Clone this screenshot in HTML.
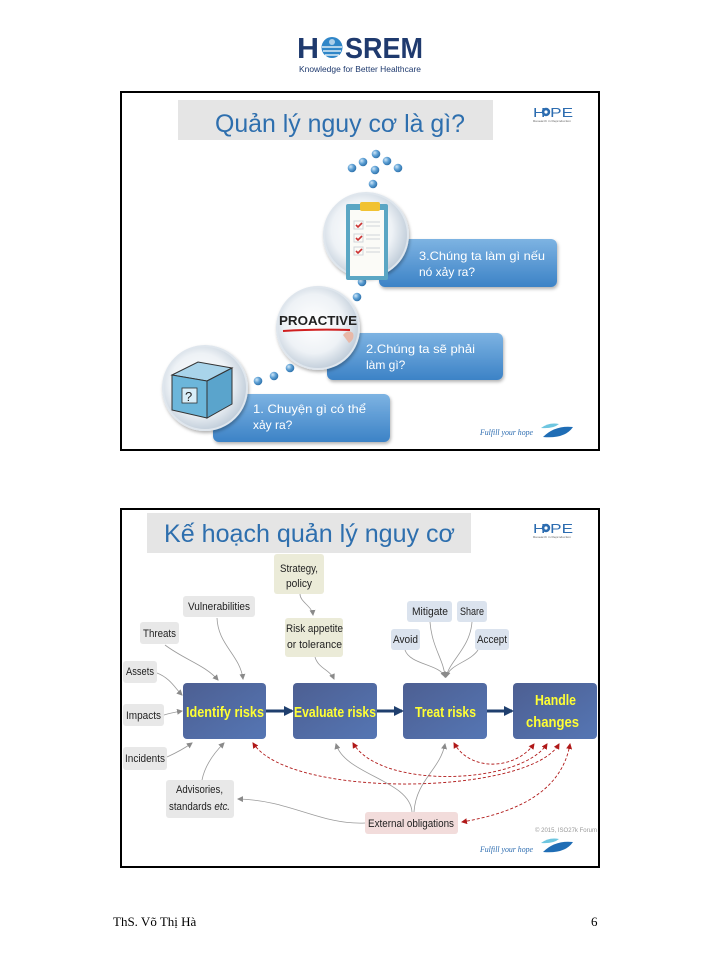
<!DOCTYPE html>
<html><head><meta charset="utf-8">
<style>
html,body{margin:0;padding:0;background:#fff;}
svg{display:block;}
</style></head>
<body>
<svg width="720" height="960" viewBox="0 0 720 960" xmlns="http://www.w3.org/2000/svg" style="font-family:'Liberation Sans',sans-serif">
<defs>
  <linearGradient id="bb" x1="0" y1="0" x2="0" y2="1">
    <stop offset="0" stop-color="#7db3e2"/>
    <stop offset="1" stop-color="#3c82c6"/>
  </linearGradient>
  <linearGradient id="nb" x1="0" y1="0" x2="1" y2="1">
    <stop offset="0" stop-color="#4d5f92"/>
    <stop offset="1" stop-color="#5576b4"/>
  </linearGradient>
  <radialGradient id="cg" cx="0.45" cy="0.45" r="0.6">
    <stop offset="0" stop-color="#ffffff"/>
    <stop offset="0.6" stop-color="#eef2f6"/>
    <stop offset="1" stop-color="#b8c6d4"/>
  </radialGradient>
  <radialGradient id="ball" cx="0.35" cy="0.35" r="0.7">
    <stop offset="0" stop-color="#cfe6f7"/>
    <stop offset="0.5" stop-color="#5c9fd4"/>
    <stop offset="1" stop-color="#2b6ea8"/>
  </radialGradient>
  <marker id="ga" markerWidth="6" markerHeight="6" refX="5" refY="3" orient="auto" markerUnits="userSpaceOnUse">
    <path d="M0,0 L6,3 L0,6 z" fill="#8a8a8a"/>
  </marker>
  <marker id="ra" markerWidth="6" markerHeight="6" refX="5" refY="3" orient="auto" markerUnits="userSpaceOnUse">
    <path d="M0,0 L6,3 L0,6 z" fill="#b01818"/>
  </marker>
  <marker id="rs" markerWidth="6" markerHeight="6" refX="1" refY="3" orient="auto" markerUnits="userSpaceOnUse">
    <path d="M6,0 L0,3 L6,6 z" fill="#b01818"/>
  </marker>
  <marker id="ba" markerWidth="10" markerHeight="10" refX="8" refY="5" orient="auto" markerUnits="userSpaceOnUse">
    <path d="M0,0 L10,5 L0,10 z" fill="#1f3f6e"/>
  </marker>
  <filter id="sh" x="-10%" y="-10%" width="130%" height="140%">
    <feDropShadow dx="1" dy="2" stdDeviation="1.5" flood-color="#000" flood-opacity="0.3"/>
  </filter>
</defs>

<!-- HOSREM logo -->
<text x="297" y="58" font-size="29" font-weight="bold" fill="#1f3a6e" textLength="22" lengthAdjust="spacingAndGlyphs">H</text>
<circle cx="332" cy="47.5" r="10.5" fill="#2f86c8"/>
<path d="M322,47 h20 M323,51 h18 M325,55 h14" stroke="#fff" stroke-width="1.2"/>
<circle cx="332" cy="42" r="3" fill="#fff" opacity="0.6"/>
<text x="345" y="58" font-size="29" font-weight="bold" fill="#1f3a6e" textLength="78" lengthAdjust="spacingAndGlyphs">SREM</text>
<text x="299" y="72" font-size="8.5" fill="#1f3a6e" textLength="122" lengthAdjust="spacingAndGlyphs">Knowledge for Better Healthcare</text>

<!-- ================= SLIDE 1 ================= -->
<rect x="121" y="92" width="478" height="358" fill="#fff" stroke="#000" stroke-width="2"/>
<rect x="178" y="100" width="315" height="40" fill="#e5e5e5"/>
<text x="215" y="132" font-size="25" fill="#2e6fae" textLength="250" lengthAdjust="spacingAndGlyphs">Quản lý nguy cơ là gì?</text>
<!-- HOPE logo -->
<text x="533" y="117" font-size="13" fill="#2c6cb0" textLength="40" lengthAdjust="spacingAndGlyphs">H  PE</text>
<circle cx="546" cy="112" r="4.2" fill="#2c6cb0"/><circle cx="546" cy="112" r="1.6" fill="#fff"/>
<text x="533" y="122" font-size="3" fill="#666" textLength="38" lengthAdjust="spacingAndGlyphs">Research in Reproduction</text>

<!-- balls -->
<g fill="url(#ball)">
  <circle cx="352" cy="168" r="4.3"/><circle cx="363" cy="162" r="4.3"/><circle cx="376" cy="154" r="4.3"/>
  <circle cx="387" cy="161" r="4.3"/><circle cx="398" cy="168" r="4.3"/><circle cx="375" cy="170" r="4.3"/>
  <circle cx="373" cy="184" r="4.3"/>
  <circle cx="362" cy="282" r="4.3"/><circle cx="357" cy="297" r="4.3"/>
  <circle cx="290" cy="368" r="4.3"/><circle cx="274" cy="376" r="4.3"/><circle cx="258" cy="381" r="4.3"/>
</g>

<!-- box 3 -->
<rect x="379" y="239" width="178" height="48" rx="6" fill="url(#bb)" filter="url(#sh)"/>
<text x="419" y="260" font-size="12" fill="#fff" textLength="126" lengthAdjust="spacingAndGlyphs">3.Chúng ta làm gì nếu</text>
<text x="419" y="276" font-size="12" fill="#fff">nó xảy ra?</text>
<!-- circle 3 -->
<circle cx="366" cy="235" r="42" fill="url(#cg)" stroke="#dfe6ed" stroke-width="2" filter="url(#sh)"/>
<rect x="346" y="204" width="42" height="76" rx="2" fill="#5aa6c4"/>
<rect x="350" y="210" width="34" height="66" fill="#fbfbf7"/>
<rect x="360" y="202" width="20" height="9" rx="2" fill="#f1c232"/>
<g stroke="#cc3333" stroke-width="1.6" fill="none">
  <path d="M356,225 l2,2 l4,-4"/><path d="M356,238 l2,2 l4,-4"/><path d="M356,251 l2,2 l4,-4"/>
</g>
<g stroke="#d0d5da" stroke-width="1">
  <rect x="354" y="221" width="9" height="8" fill="none"/><rect x="354" y="234" width="9" height="8" fill="none"/><rect x="354" y="247" width="9" height="8" fill="none"/>
  <path d="M366,222 h14 M366,226 h14 M366,235 h14 M366,239 h14 M366,248 h14 M366,252 h14"/>
</g>

<!-- box 2 -->
<rect x="327" y="333" width="176" height="47" rx="6" fill="url(#bb)" filter="url(#sh)"/>
<text x="366" y="353" font-size="12" fill="#fff" textLength="109" lengthAdjust="spacingAndGlyphs">2.Chúng ta sẽ phải</text>
<text x="366" y="369" font-size="12" fill="#fff">làm gì?</text>
<!-- circle 2 -->
<circle cx="318" cy="328" r="41" fill="url(#cg)" stroke="#dfe6ed" stroke-width="2" filter="url(#sh)"/>
<text x="279" y="325" font-size="13" font-weight="bold" fill="#222" textLength="78" lengthAdjust="spacingAndGlyphs">PROACTIVE</text>
<path d="M283,331 Q315,329 350,330" stroke="#d02020" stroke-width="2" fill="none"/>
<path d="M343,335 q5,-6 10,-2 q2,6 -4,10 z" fill="#e8b8a8"/>

<!-- box 1 -->
<rect x="213" y="394" width="177" height="48" rx="6" fill="url(#bb)" filter="url(#sh)"/>
<text x="253" y="413" font-size="12" fill="#fff" textLength="113" lengthAdjust="spacingAndGlyphs">1. Chuyện gì có thể</text>
<text x="253" y="429" font-size="12" fill="#fff">xảy ra?</text>
<!-- circle 1 -->
<circle cx="205" cy="388" r="42" fill="url(#cg)" stroke="#dfe6ed" stroke-width="2" filter="url(#sh)"/>
<polygon points="172,375 198,362 232,368 207,381" fill="#a9d4ea" stroke="#333" stroke-width="1"/>
<polygon points="172,375 207,381 207,418 172,410" fill="#6cb6da" stroke="#333" stroke-width="1"/>
<polygon points="207,381 232,368 232,404 207,418" fill="#5aa4cc" stroke="#333" stroke-width="1"/>
<rect x="182" y="388" width="15" height="15" fill="#d8eef8" stroke="#333" stroke-width="0.8"/>
<text x="185" y="401" font-size="13" fill="#222">?</text>

<!-- fulfill logo slide 1 -->
<text x="480" y="435" font-size="8" fill="#2c6cb0" style="font-family:'Liberation Serif',serif;font-style:italic" textLength="53" lengthAdjust="spacingAndGlyphs">Fulfill your hope</text>
<path d="M541,428 q8,-6 18,-4 q-6,5 -18,4 z" fill="#6ec6e0"/>
<path d="M543,437 q12,-12 30,-10 q-8,12 -30,10 z" fill="#1f6db5"/>

<!-- ================= SLIDE 2 ================= -->
<rect x="121" y="509" width="478" height="358" fill="#fff" stroke="#000" stroke-width="2"/>
<rect x="147" y="513" width="324" height="40" fill="#e5e5e5"/>
<text x="164" y="542" font-size="25" fill="#2e6fae" textLength="291" lengthAdjust="spacingAndGlyphs">Kế hoạch quản lý nguy cơ</text>
<text x="533" y="533" font-size="13" fill="#2c6cb0" textLength="40" lengthAdjust="spacingAndGlyphs">H  PE</text>
<circle cx="546" cy="528" r="4.2" fill="#2c6cb0"/><circle cx="546" cy="528" r="1.6" fill="#fff"/>
<text x="533" y="538" font-size="3" fill="#666" textLength="38" lengthAdjust="spacingAndGlyphs">Research in Reproduction</text>

<!-- gray connectors -->
<g stroke="#9a9a9a" stroke-width="0.8" fill="none" marker-end="url(#ga)">
  <path d="M165,645 C185,660 205,665 218,680"/>
  <path d="M217,618 C218,645 240,655 243,679"/>
  <path d="M157,673 C170,678 175,688 182,695"/>
  <path d="M164,715 C170,713 176,712 182,711"/>
  <path d="M167,757 C178,752 185,748 192,743"/>
  <path d="M202,780 C205,765 215,752 224,743"/>
  <path d="M300,594 C300,602 312,606 313,615"/>
  <path d="M315,657 C318,668 330,670 334,679"/>
  <path d="M405,650 C410,665 440,664 445,677"/>
  <path d="M430,622 C432,648 444,660 445,677"/>
  <path d="M472,622 C470,648 450,660 446,677"/>
  <path d="M478,650 C470,662 450,664 446,677"/>
  <path d="M412,812 C410,780 345,775 336,744"/>
  <path d="M414,812 C416,780 440,770 445,744"/>
  <path d="M365,823 C320,825 290,800 238,799"/>
</g>

<!-- red dashed -->
<g stroke="#b01818" stroke-width="0.9" fill="none" stroke-dasharray="3,2" marker-start="url(#rs)" marker-end="url(#ra)">
  <path d="M454,743 C470,772 515,770 534,744"/>
  <path d="M353,743 C380,790 520,785 547,744"/>
  <path d="M253,743 C290,800 530,795 559,744"/>
  <path d="M462,822 C520,812 562,790 570,744"/>
</g>

<!-- process boxes -->
<rect x="183" y="683" width="83" height="56" rx="4" fill="url(#nb)"/>
<rect x="293" y="683" width="84" height="56" rx="4" fill="url(#nb)"/>
<rect x="403" y="683" width="84" height="56" rx="4" fill="url(#nb)"/>
<rect x="513" y="683" width="84" height="56" rx="4" fill="url(#nb)"/>
<g style="font-family:'Liberation Sans Narrow','Liberation Sans',sans-serif;font-weight:bold" font-size="15" fill="#ffff33">
  <text x="186" y="717" textLength="78" lengthAdjust="spacingAndGlyphs">Identify risks</text>
  <text x="294" y="717" textLength="82" lengthAdjust="spacingAndGlyphs">Evaluate risks</text>
  <text x="415" y="717" textLength="61" lengthAdjust="spacingAndGlyphs">Treat risks</text>
  <text x="535" y="705" textLength="41" lengthAdjust="spacingAndGlyphs">Handle</text>
  <text x="526" y="727" textLength="53" lengthAdjust="spacingAndGlyphs">changes</text>
</g>
<g stroke="#1f3f6e" stroke-width="3" marker-end="url(#ba)">
  <line x1="266" y1="711" x2="292" y2="711"/>
  <line x1="377" y1="711" x2="402" y2="711"/>
  <line x1="487" y1="711" x2="512" y2="711"/>
</g>

<!-- nodes -->
<g>
  <rect x="274" y="554" width="50" height="40" rx="3" fill="#ebebd8"/>
  <rect x="285" y="618" width="58" height="39" rx="3" fill="#ebebd8"/>
  <rect x="183" y="596" width="72" height="21" rx="3" fill="#e8e8e8"/>
  <rect x="140" y="622" width="39" height="22" rx="3" fill="#e8e8e8"/>
  <rect x="123" y="661" width="34" height="22" rx="3" fill="#e8e8e8"/>
  <rect x="123" y="704" width="41" height="22" rx="3" fill="#e8e8e8"/>
  <rect x="123" y="747" width="44" height="23" rx="3" fill="#e8e8e8"/>
  <rect x="166" y="780" width="68" height="38" rx="3" fill="#e8e8e8"/>
  <rect x="365" y="812" width="93" height="22" rx="3" fill="#f2dcdb"/>
  <rect x="407" y="601" width="45" height="21" rx="3" fill="#dbe3ee"/>
  <rect x="457" y="601" width="30" height="21" rx="3" fill="#dbe3ee"/>
  <rect x="391" y="629" width="29" height="21" rx="3" fill="#dbe3ee"/>
  <rect x="475" y="629" width="34" height="21" rx="3" fill="#dbe3ee"/>
</g>
<g style="font-family:'Liberation Sans Narrow','Liberation Sans',sans-serif" font-size="11" fill="#222">
  <text x="280" y="572" textLength="38" lengthAdjust="spacingAndGlyphs">Strategy,</text>
  <text x="286" y="587" textLength="26" lengthAdjust="spacingAndGlyphs">policy</text>
  <text x="286" y="632" textLength="57" lengthAdjust="spacingAndGlyphs">Risk appetite</text>
  <text x="287" y="648" textLength="55" lengthAdjust="spacingAndGlyphs">or tolerance</text>
  <text x="188" y="610" textLength="62" lengthAdjust="spacingAndGlyphs">Vulnerabilities</text>
  <text x="143" y="637" textLength="33" lengthAdjust="spacingAndGlyphs">Threats</text>
  <text x="126" y="675" textLength="28" lengthAdjust="spacingAndGlyphs">Assets</text>
  <text x="126" y="719" textLength="35" lengthAdjust="spacingAndGlyphs">Impacts</text>
  <text x="125" y="762" textLength="40" lengthAdjust="spacingAndGlyphs">Incidents</text>
  <text x="176" y="793" textLength="47" lengthAdjust="spacingAndGlyphs">Advisories,</text>
  <text x="169" y="810" textLength="61" lengthAdjust="spacingAndGlyphs">standards <tspan style="font-style:italic">etc.</tspan></text>
  <text x="368" y="827" textLength="86" lengthAdjust="spacingAndGlyphs">External obligations</text>
  <text x="412" y="615" textLength="36" lengthAdjust="spacingAndGlyphs">Mitigate</text>
  <text x="460" y="615" textLength="24" lengthAdjust="spacingAndGlyphs">Share</text>
  <text x="393" y="643" textLength="25" lengthAdjust="spacingAndGlyphs">Avoid</text>
  <text x="477" y="643" textLength="30" lengthAdjust="spacingAndGlyphs">Accept</text>
</g>
<text x="535" y="832" font-size="6.5" fill="#999" textLength="62" lengthAdjust="spacingAndGlyphs">© 2015, ISO27k Forum</text>

<!-- fulfill logo slide 2 -->
<text x="480" y="852" font-size="8" fill="#2c6cb0" style="font-family:'Liberation Serif',serif;font-style:italic" textLength="53" lengthAdjust="spacingAndGlyphs">Fulfill your hope</text>
<path d="M541,843 q8,-6 18,-4 q-6,5 -18,4 z" fill="#6ec6e0"/>
<path d="M543,852 q12,-12 30,-10 q-8,12 -30,10 z" fill="#1f6db5"/>

<!-- footer -->
<text x="113" y="926" font-size="13" fill="#000" style="font-family:'Liberation Serif',serif">ThS. Võ Thị Hà</text>
<text x="591" y="926" font-size="13" fill="#000" style="font-family:'Liberation Serif',serif">6</text>
</svg>
</body></html>
